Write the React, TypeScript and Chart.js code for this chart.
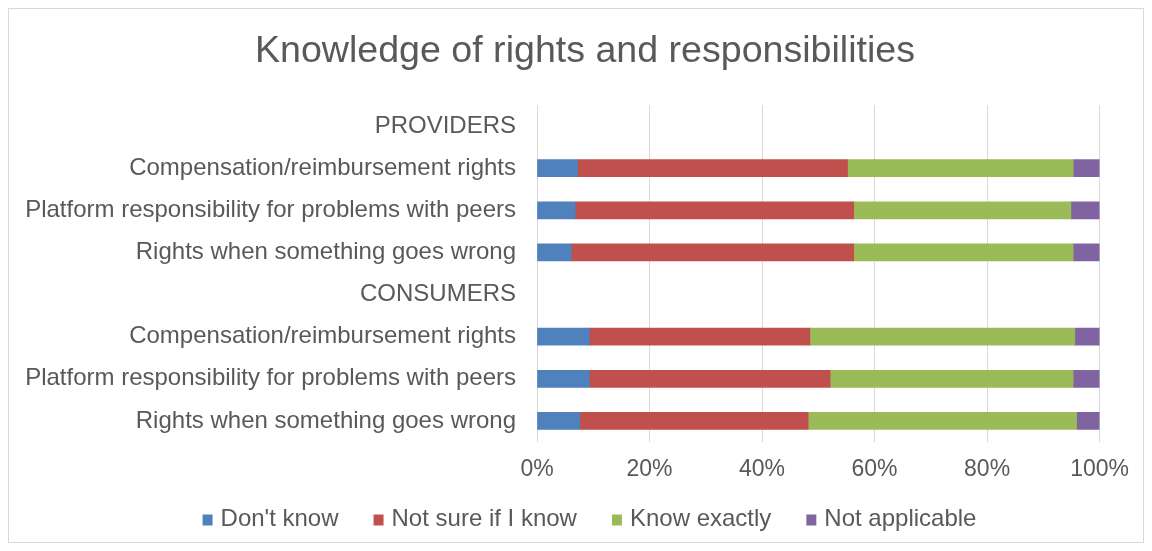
import React, { useEffect, useRef } from "react";
import { Chart, registerables } from "chart.js";

Chart.register(...registerables);

const categories = [
  "PROVIDERS",
  "Compensation/reimbursement rights",
  "Platform responsibility for problems with peers",
  "Rights when something goes wrong",
  "CONSUMERS",
  "Compensation/reimbursement rights",
  "Platform responsibility for problems with peers",
  "Rights when something goes wrong",
];

const dontKnow = [null, 7.2, 6.8, 6.1, null, 9.3, 9.3, 7.6];
const notSure = [null, 48.0, 49.5, 50.2, null, 39.2, 42.8, 40.6];
const knowExactly = [null, 40.1, 38.6, 39.0, null, 47.1, 43.2, 47.7];
const notApplicable = [null, 4.7, 5.1, 4.7, null, 4.4, 4.7, 4.1];

const xTicks = [0, 20, 40, 60, 80, 100];

const seriesNames = ["Don't know", "Not sure if I know", "Know exactly", "Not applicable"];
const seriesColors = ["#4F81BD", "#C0504D", "#9BBB59", "#8064A2"];

const chartTitle = "Knowledge of rights and responsibilities";

const TEXT = "#595959";
const FONT = "'Liberation Sans', Arial, sans-serif";

const titleAndLegendPlugin = {
  id: "titleAndLegend",
  afterDraw(chart: any) {
    const ctx = chart.ctx as CanvasRenderingContext2D;
    ctx.save();
    // Title
    ctx.fillStyle = TEXT;
    ctx.font = `37.6px ${FONT}`;
    ctx.textAlign = "center";
    ctx.textBaseline = "middle";
    ctx.fillText(chartTitle, 576, 42.6);

    // Legend
    ctx.font = `24px ${FONT}`;
    ctx.textAlign = "left";
    const box = 10;
    const boxGap = 8;
    const itemGap = 35;
    const widths = seriesNames.map((n) => ctx.measureText(n).width);
    const total =
      widths.reduce((a, b) => a + b, 0) + seriesNames.length * (box + boxGap) + (seriesNames.length - 1) * itemGap;
    let x = 580.5 - total / 2;
    const cy = 510;
    seriesNames.forEach((name, i) => {
      ctx.fillStyle = seriesColors[i];
      ctx.fillRect(x, cy - 4.5, box, 11);
      x += box + boxGap;
      ctx.fillStyle = TEXT;
      ctx.fillText(name, x, cy);
      x += widths[i] + itemGap;
    });
    ctx.restore();
  },
};

export default function App() {
  const ref = useRef<HTMLCanvasElement | null>(null);

  useEffect(() => {
    if (!ref.current) return;
    const seriesData = [dontKnow, notSure, knowExactly, notApplicable];
    const chart = new Chart(ref.current, {
      type: "bar",
      data: {
        labels: categories,
        datasets: seriesData.map((d, i) => ({
          label: seriesNames[i],
          data: d as any,
          backgroundColor: seriesColors[i],
          borderWidth: 0,
          barThickness: 17,
        })),
      },
      options: {
        indexAxis: "y",
        responsive: true,
        maintainAspectRatio: false,
        animation: false,
        layout: { autoPadding: false, padding: { left: 0, right: 38, top: 96, bottom: 60 } },
        plugins: {
          title: { display: false },
          legend: { display: false },
          tooltip: { enabled: false },
        },
        scales: {
          x: {
            stacked: true,
            min: 0,
            max: 100,
            afterBuildTicks: (scale: any) => {
              scale.ticks = xTicks.map((v) => ({ value: v }));
            },
            afterFit: (scale: any) => {
              scale.height = 40;
            },
            grid: { color: "#d9d9d9", drawTicks: false, lineWidth: 1 },
            border: { display: false },
            ticks: {
              color: TEXT,
              font: { family: FONT, size: 23 },
              padding: 14,
              callback: (v: any) => v + "%",
            },
          },
          y: {
            stacked: true,
            grid: { display: false, drawTicks: false },
            border: { display: false },
            afterFit: (scale: any) => {
              scale.width = 528;
            },
            ticks: {
              color: TEXT,
              font: { family: FONT, size: 24 },
              padding: 21,
              autoSkip: false,
            },
          },
        },
      },
      plugins: [titleAndLegendPlugin],
    });
    return () => chart.destroy();
  }, []);

  return (
    <div
      style={{
        width: 1136,
        height: 535,
        border: "1px solid #d9d9d9",
        boxSizing: "border-box",
        position: "relative",
        background: "#fff",
      }}
    >
      <canvas ref={ref} />
    </div>
  );
}
